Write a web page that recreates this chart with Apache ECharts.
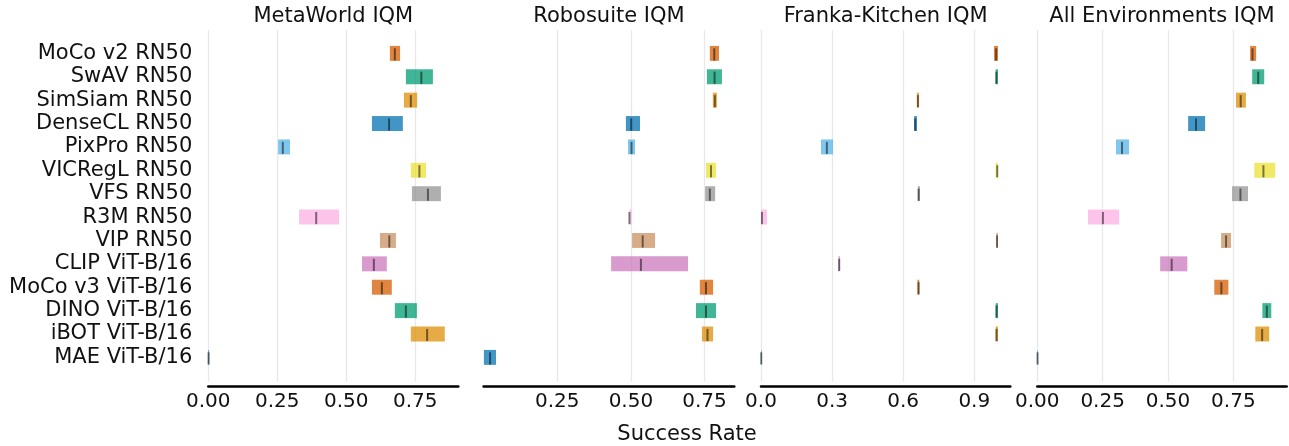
<!DOCTYPE html>
<html>
<head>
<meta charset="utf-8">
<script src="https://cdn.jsdelivr.net/npm/echarts@6/dist/echarts.min.js"></script>
<style>
  html, body { margin: 0; padding: 0; background: #fff; }
  #chart { width: 1289px; height: 446px; }
</style>
</head>
<body>
<div id="chart"></div>
<script>
// Representations, listed top to bottom
const categories = [
  'MoCo v2 RN50', 'SwAV RN50', 'SimSiam RN50', 'DenseCL RN50', 'PixPro RN50',
  'VICRegL RN50', 'VFS RN50', 'R3M RN50', 'VIP RN50', 'CLIP ViT-B/16',
  'MoCo v3 ViT-B/16', 'DINO ViT-B/16', 'iBOT ViT-B/16', 'MAE ViT-B/16'
];
const colors = [
  '#D55E00', '#029E73', '#DE8F05', '#0173B2', '#56B4E9',
  '#ECE133', '#949494', '#FBAFE4', '#CA9161', '#CC78BC',
  '#D55E00', '#029E73', '#DE8F05', '#0173B2'
];

// IQM point estimates and 95% confidence intervals (lower / upper)
const metaworldLow  = [0.658, 0.716, 0.709, 0.593, 0.253, 0.734, 0.738, 0.329, 0.622, 0.557, 0.593, 0.676, 0.734, 0.000];
const metaworldHigh = [0.695, 0.814, 0.757, 0.705, 0.296, 0.789, 0.843, 0.474, 0.680, 0.647, 0.665, 0.756, 0.857, 0.003];
const metaworldIqm  = [0.676, 0.772, 0.734, 0.655, 0.270, 0.765, 0.796, 0.391, 0.656, 0.600, 0.629, 0.716, 0.793, 0.001];

const robosuiteLow  = [0.768, 0.758, 0.778, 0.483, 0.490, 0.755, 0.752, 0.495, 0.504, 0.433, 0.734, 0.721, 0.741, 0.001];
const robosuiteHigh = [0.799, 0.809, 0.792, 0.531, 0.514, 0.789, 0.786, 0.502, 0.582, 0.694, 0.779, 0.789, 0.779, 0.042];
const robosuiteIqm  = [0.783, 0.784, 0.785, 0.501, 0.502, 0.772, 0.768, 0.495, 0.540, 0.534, 0.755, 0.755, 0.760, 0.022];

const frankaLow  = [0.983, 0.990, 0.658, 0.646, 0.253, 0.990, 0.662, 0.000, 0.993, 0.327, 0.660, 0.990, 0.990, 0.000];
const frankaHigh = [1.000, 1.000, 0.667, 0.658, 0.304, 1.000, 0.671, 0.025, 1.000, 0.333, 0.668, 1.000, 1.000, 0.002];
const frankaIqm  = [0.992, 0.993, 0.662, 0.651, 0.278, 0.997, 0.665, 0.004, 0.996, 0.330, 0.665, 0.994, 0.994, 0.001];

const allLow  = [0.814, 0.822, 0.760, 0.577, 0.301, 0.830, 0.745, 0.194, 0.703, 0.470, 0.677, 0.861, 0.834, 0.000];
const allHigh = [0.837, 0.868, 0.798, 0.642, 0.351, 0.910, 0.806, 0.313, 0.741, 0.574, 0.731, 0.895, 0.887, 0.002];
const allIqm  = [0.823, 0.845, 0.778, 0.607, 0.324, 0.865, 0.777, 0.251, 0.722, 0.514, 0.704, 0.878, 0.860, 0.001];

const panelTitles = ['MetaWorld IQM', 'Robosuite IQM', 'Franka-Kitchen IQM', 'All Environments IQM'];
const xLabel = 'Success Rate';

const FONT = 'DejaVu Sans';

const panels = [
  { low: metaworldLow, high: metaworldHigh, iqm: metaworldIqm, max: 0.906, interval: 0.25, digits: 2, left: 208.3, width: 250.0, showZero: true },
  { low: robosuiteLow, high: robosuiteHigh, iqm: robosuiteIqm, max: 0.851, interval: 0.25, digits: 2, left: 483.6, width: 250.7, showZero: false },
  { low: frankaLow, high: frankaHigh, iqm: frankaIqm, max: 1.052, interval: 0.3, digits: 1, left: 761.0, width: 249.3, showZero: true },
  { low: allLow, high: allHigh, iqm: allIqm, max: 0.954, interval: 0.25, digits: 2, left: 1037.3, width: 249.4, showZero: true }
];

function withAlpha(hex, a) {
  const n = parseInt(hex.slice(1), 16);
  return 'rgba(' + ((n >> 16) & 255) + ',' + ((n >> 8) & 255) + ',' + (n & 255) + ',' + a + ')';
}

// Interval bar with a short vertical tick at the point estimate
function renderInterval(params, api) {
  const lo = api.value(0), hi = api.value(1), mid = api.value(2), row = api.value(3);
  const a = api.coord([lo, row]);
  const b = api.coord([hi, row]);
  const m = api.coord([mid, row]);
  const band = api.size([0, 1])[1];
  const half = band * 0.32;
  const tick = band * 0.26;
  return {
    type: 'group',
    children: [
      {
        type: 'rect',
        shape: { x: a[0], y: a[1] - half, width: Math.max(b[0] - a[0], 0), height: half * 2 },
        style: { fill: withAlpha(colors[row], 0.75) }
      },
      {
        type: 'line',
        shape: { x1: m[0], y1: m[1] - tick + 1, x2: m[0], y2: m[1] + tick + 1 },
        style: { stroke: 'rgba(0,0,0,0.5)', lineWidth: 2 }
      }
    ]
  };
}

const grids = [], xAxes = [], yAxes = [], series = [], graphics = [];
panels.forEach((p, i) => {
  grids.push({ left: p.left, width: p.width, top: 30, height: 351.7, containLabel: false });
  xAxes.push({
    type: 'value', gridIndex: i, min: 0, max: p.max, interval: p.interval,
    position: 'bottom', offset: 5,
    axisLine: { show: true, onZero: false, lineStyle: { color: '#000', width: 2.5 } },
    axisTick: { show: false },
    axisLabel: {
      show: true, margin: 5, fontFamily: FONT, fontSize: 20, color: '#111',
      showMinLabel: p.showZero, showMaxLabel: false,
      formatter: v => v.toFixed(p.digits)
    },
    splitLine: {
      show: true, showMinLine: p.showZero, showMaxLine: false,
      lineStyle: { color: '#e8e8e8', width: 1.3 }
    }
  });
  yAxes.push({
    type: 'value', gridIndex: i, min: -1, max: 14.04, interval: 1, inverse: true,
    axisLine: { show: false, onZero: false }, axisTick: { show: false }, splitLine: { show: false },
    axisLabel: {
      show: i === 0, margin: 16, fontFamily: FONT, fontSize: 21, color: '#111',
      padding: [3, 0, 0, 0],
      formatter: v => (Number.isInteger(v) && v >= 0 && v < categories.length) ? categories[v] : ''
    }
  });
  series.push({
    type: 'custom', xAxisIndex: i, yAxisIndex: i, clip: false,
    renderItem: renderInterval,
    encode: { x: [0, 1, 2], y: 3 },
    data: categories.map((c, k) => [p.low[k], p.high[k], p.iqm[k], k])
  });
  graphics.push({
    type: 'text', x: p.left + p.width / 2, y: 16.5,
    style: { text: panelTitles[i], textAlign: 'center', textVerticalAlign: 'middle', fontFamily: FONT, fontSize: 21, fill: '#111' }
  });
});
graphics.push({
  type: 'text', x: 687, y: 434.5,
  style: { text: xLabel, textAlign: 'center', textVerticalAlign: 'middle', fontFamily: FONT, fontSize: 21, fill: '#111' }
});

const chart = echarts.init(document.getElementById('chart'), null, { renderer: 'canvas' });
chart.setOption({
  animation: false,
  backgroundColor: '#fff',
  grid: grids,
  xAxis: xAxes,
  yAxis: yAxes,
  series: series,
  graphic: graphics
});
</script>
</body>
</html>
